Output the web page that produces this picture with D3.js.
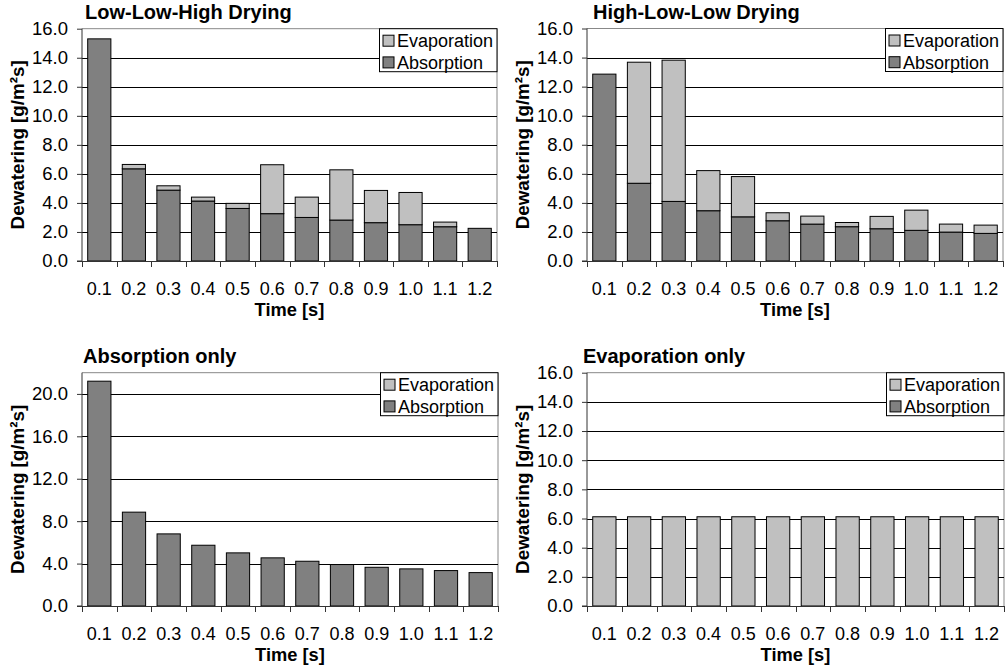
<!DOCTYPE html>
<html>
<head>
<meta charset="utf-8">
<script src="https://cdn.jsdelivr.net/npm/d3@7"></script>
<style>
  html, body { margin: 0; padding: 0; background: #fff; }
  svg { display: block; }
  text { font-family: "Liberation Sans", Arial, Helvetica, sans-serif; fill: #000; }
</style>
</head>
<body>
<svg id="chart" width="1006" height="672"></svg>
<script>
// Time steps shared by all four drying scenarios
const times = ["0.1", "0.2", "0.3", "0.4", "0.5", "0.6", "0.7", "0.8", "0.9", "1.0", "1.1", "1.2"];

// Low-Low-High drying (g/m²s)
const llhAbsorption  = [15.3, 6.35, 4.88, 4.13, 3.62, 3.26, 3.00, 2.82, 2.64, 2.50, 2.36, 2.25];
const llhEvaporation = [0.00, 0.30, 0.30, 0.27, 0.35, 3.37, 1.40, 3.46, 2.22, 2.22, 0.32, 0.00];

// High-Low-Low drying (g/m²s)
const hllAbsorption  = [12.86, 5.35, 4.10, 3.46, 3.04, 2.77, 2.54, 2.36, 2.22, 2.11, 1.99, 1.90];
const hllEvaporation = [0.00, 8.33, 9.72, 2.76, 2.77, 0.55, 0.55, 0.29, 0.85, 1.39, 0.55, 0.57];

// Absorption only (g/m²s)
const absOnlyAbsorption  = [21.2, 8.85, 6.80, 5.73, 5.01, 4.54, 4.22, 3.91, 3.65, 3.50, 3.34, 3.15];
const absOnlyEvaporation = [0, 0, 0, 0, 0, 0, 0, 0, 0, 0, 0, 0];

// Evaporation only (g/m²s)
const evapOnlyAbsorption  = [0, 0, 0, 0, 0, 0, 0, 0, 0, 0, 0, 0];
const evapOnlyEvaporation = [6.12, 6.12, 6.12, 6.12, 6.12, 6.12, 6.12, 6.12, 6.12, 6.12, 6.12, 6.12];

// Axis tick values
const ticksStd = [0, 2, 4, 6, 8, 10, 12, 14, 16];
const ticksAbs = [0, 4, 8, 12, 16, 20];

const seriesNames = ["Evaporation", "Absorption"];
const colors = { Absorption: "#808080", Evaporation: "#c0c0c0" };

const panels = [
  { title: "Low-Low-High Drying", abs: llhAbsorption, evap: llhEvaporation,
    box: { l: 82, r: 497, t: 28.7, b: 261 }, yMax: 16, ticks: ticksStd, titleX: 85 },
  { title: "High-Low-Low Drying", abs: hllAbsorption, evap: hllEvaporation,
    box: { l: 587, r: 1003, t: 28.5, b: 261 }, yMax: 16, ticks: ticksStd, titleX: 593 },
  { title: "Absorption only", abs: absOnlyAbsorption, evap: absOnlyEvaporation,
    box: { l: 82, r: 498, t: 372.7, b: 606 }, yMax: 22, ticks: ticksAbs, titleX: 83 },
  { title: "Evaporation only", abs: evapOnlyAbsorption, evap: evapOnlyEvaporation,
    box: { l: 587, r: 1004, t: 372.7, b: 606 }, yMax: 16, ticks: ticksStd, titleX: 583 }
];

const svg = d3.select("#chart");

panels.forEach(p => {
  const { l, r, t, b } = p.box;
  const g = svg.append("g");

  const x = d3.scaleBand().domain(times).range([l, r]).paddingInner(0.33).paddingOuter(0.165);
  const y = d3.scaleLinear().domain([0, p.yMax]).range([b, t]);

  // plot frame (top and right)
  g.append("path")
    .attr("d", `M${l},${t}H${r}V${b}`)
    .attr("fill", "none").attr("stroke", "#888").attr("stroke-width", 1);

  // horizontal gridlines
  g.append("g").selectAll("line")
    .data(p.ticks.filter(v => v > 0 && v < p.yMax))
    .join("line")
    .attr("x1", l).attr("x2", r)
    .attr("y1", d => Math.round(y(d)) + 0.5).attr("y2", d => Math.round(y(d)) + 0.5)
    .attr("stroke", "#000").attr("stroke-width", 1);

  // stacked data: absorption at the bottom, evaporation on top
  const rows = times.map((tm, i) => ({ time: tm, Absorption: p.abs[i], Evaporation: p.evap[i] }));
  const stack = d3.stack().keys(["Absorption", "Evaporation"])(rows);

  g.append("g").selectAll("g")
    .data(stack)
    .join("g")
    .attr("fill", d => colors[d.key])
    .selectAll("rect")
    .data(d => d.filter(s => s[1] - s[0] > 0))
    .join("rect")
    .attr("x", d => x(d.data.time))
    .attr("width", x.bandwidth())
    .attr("y", d => y(d[1]))
    .attr("height", d => y(d[0]) - y(d[1]))
    .attr("stroke", "#000").attr("stroke-width", 1);

  // y axis
  const yAxis = d3.axisLeft(y).tickValues(p.ticks).tickFormat(d3.format(".1f")).tickSize(5).tickPadding(9);
  const ya = g.append("g").attr("transform", `translate(${l},0)`).call(yAxis);
  ya.select(".domain").attr("stroke", "#333").attr("d", `M-5,${b}H0V${t}`);
  ya.selectAll(".tick line").attr("stroke", "#333");
  ya.selectAll(".tick text").attr("font-size", 18.5).attr("font-family", "Liberation Sans, Arial, sans-serif").attr("fill", "#000");

  // x axis with ticks at category boundaries
  const step = x.step();
  const start = x.range()[0];
  const boundaries = d3.range(times.length + 1).map(i => start + i * step);
  g.append("line").attr("x1", l).attr("x2", r).attr("y1", b + 0.5).attr("y2", b + 0.5).attr("stroke", "#333");
  g.append("g").selectAll("line").data(boundaries).join("line")
    .attr("x1", d => Math.round(d) + 0.5).attr("x2", d => Math.round(d) + 0.5)
    .attr("y1", b).attr("y2", b + 6).attr("stroke", "#333");
  g.append("g").selectAll("text").data(times).join("text")
    .attr("x", d => x(d) + x.bandwidth() / 2)
    .attr("y", b + 34)
    .attr("text-anchor", "middle")
    .attr("font-size", 18)
    .text(d => d);

  // axis titles
  g.append("text")
    .attr("x", (l + r) / 2).attr("y", b + 55)
    .attr("text-anchor", "middle").attr("font-size", 18.3).attr("font-weight", "bold")
    .text("Time [s]");
  g.append("text")
    .attr("transform", `translate(${l - 58},${(t + b) / 2}) rotate(-90)`)
    .attr("text-anchor", "middle").attr("font-size", 18.8).attr("font-weight", "bold")
    .text("Dewatering [g/m²s]");

  // panel title
  g.append("text")
    .attr("x", p.titleX).attr("y", t - 10)
    .attr("font-size", 20).attr("font-weight", "bold")
    .text(p.title);

  // legend
  const lw = 117.5, lh = 43;
  const lg = g.append("g").attr("transform", `translate(${r - lw},${t})`);
  lg.append("rect").attr("width", lw).attr("height", lh).attr("fill", "#fff").attr("stroke", "#000");
  seriesNames.forEach((name, i) => {
    const cy = 12 + i * 21.7;
    lg.append("rect").attr("x", 3.5).attr("y", cy - 5.5).attr("width", 11).attr("height", 11)
      .attr("fill", colors[name]).attr("stroke", "#000");
    lg.append("text").attr("x", 17.5).attr("y", cy + 6.5).attr("font-size", 18).text(name);
  });
});
</script>
</body>
</html>
